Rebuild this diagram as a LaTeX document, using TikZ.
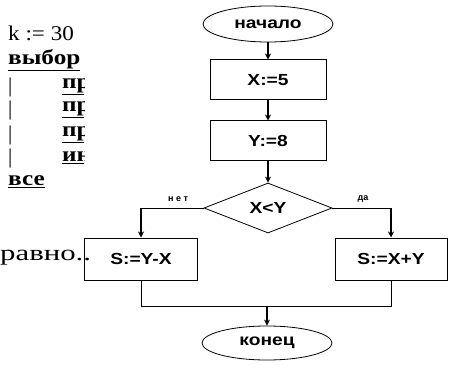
\documentclass[tikz,border=0pt]{standalone}
\usepackage{fontspec}
\setmainfont{Liberation Serif}
\newfontfamily\flowfont{Liberation Sans}
\usetikzlibrary{shapes.geometric, arrows.meta, positioning, calc}
\newcommand{\stretchx}[2][1.2]{\scalebox{#1}[1]{#2}}

\begin{document}
\begin{tikzpicture}[x=1pt, y=-1pt,
    termbox/.style={ellipse, draw, line width=0.8pt, minimum width=130pt, minimum height=36pt,
                    inner sep=0pt, font=\flowfont\fontsize{16}{16}\selectfont\bfseries},
    procbox/.style={rectangle, draw, line width=1pt, minimum width=116pt, minimum height=40pt,
                    inner sep=0pt, font=\flowfont\fontsize{16}{16}\selectfont\bfseries},
    decbox/.style={diamond, draw, line width=0.8pt, minimum width=128pt, minimum height=50pt,
                   inner sep=0pt, font=\flowfont\fontsize{16}{16}\selectfont\bfseries},
    flowline/.style={line width=2pt, -{Stealth[length=6pt, width=6pt]}},
    thinline/.style={line width=1pt},
    branchlabel/.style={font=\flowfont\fontsize{9}{9}\selectfont\bfseries},
    codetext/.style={anchor=west, inner sep=0pt, font=\fontsize{21}{21}\selectfont},
    keyword/.style={codetext, font=\fontsize{21}{21}\selectfont\bfseries}
]
\useasboundingbox (0,0) rectangle (449,374);
\fill[white] (0,0) rectangle (449,374);

% Code fragment at the left
\begin{scope}
\clip (0,0) rectangle (84,374);
\node[codetext] (kline) at (8,33) {\stretchx[1.1]{k := 30}};
\node[keyword] (vybor) at (8,60) {\stretchx{\underline{выбор}}};
\foreach \row/\word in {87/пр, 110/пр, 135/пр, 158/ин} {
  \node[codetext] (bar\row) at (8,\row) {|};
  \node[keyword] (word\row) at (62,\row) {\stretchx{\underline{\word}}};
}
\node[keyword] (vse) at (8,182) {\stretchx{\underline{все}}};
\end{scope}
\node[codetext, font=\fontsize{22}{22}\selectfont] (ravno) at (0,258) {\stretchx[1.4]{равно..}};

% Flowchart
\node[termbox] (start) at (268,24) {\stretchx{начало}};
\node[procbox] (setx) at (268,80) {\stretchx{X:=5}};
\node[procbox] (sety) at (268,141) {\stretchx{Y:=8}};
\node[decbox] (cmp) at (268,208) {\stretchx{X<Y}};
\node[procbox, minimum width=113pt, minimum height=42pt] (sno) at (141,259) {\stretchx{S:=Y-X}};
\node[procbox, minimum width=112pt, minimum height=42pt] (syes) at (391,259) {\stretchx{S:=X+Y}};
\node[termbox, minimum height=34pt] (finish) at (267,343) {\stretchx{конец}};

\draw[flowline] (start) -- (setx);
\draw[flowline] (setx) -- (sety);
\draw[flowline] (sety) -- (cmp);

% Branches
\coordinate (nocorner) at (sno.north |- cmp.west);
\coordinate (yescorner) at (syes.north |- cmp.east);
\draw[thinline] (cmp.west) -- (nocorner);
\draw[flowline] (nocorner) -- (sno.north);
\draw[thinline] (cmp.east) -- (yescorner);
\draw[flowline] (yescorner) -- (syes.north);
\node[branchlabel] (nolabel) at (178,199) {н е т};
\node[branchlabel] (yeslabel) at (363,199) {да};

% Merge
\coordinate (join) at (finish.north |- 0,306);
\draw[thinline] (sno.south) |- (syes.south |- join) -- (syes.south);
\draw[flowline] (join) -- (finish.north);

\end{tikzpicture}
\end{document}
